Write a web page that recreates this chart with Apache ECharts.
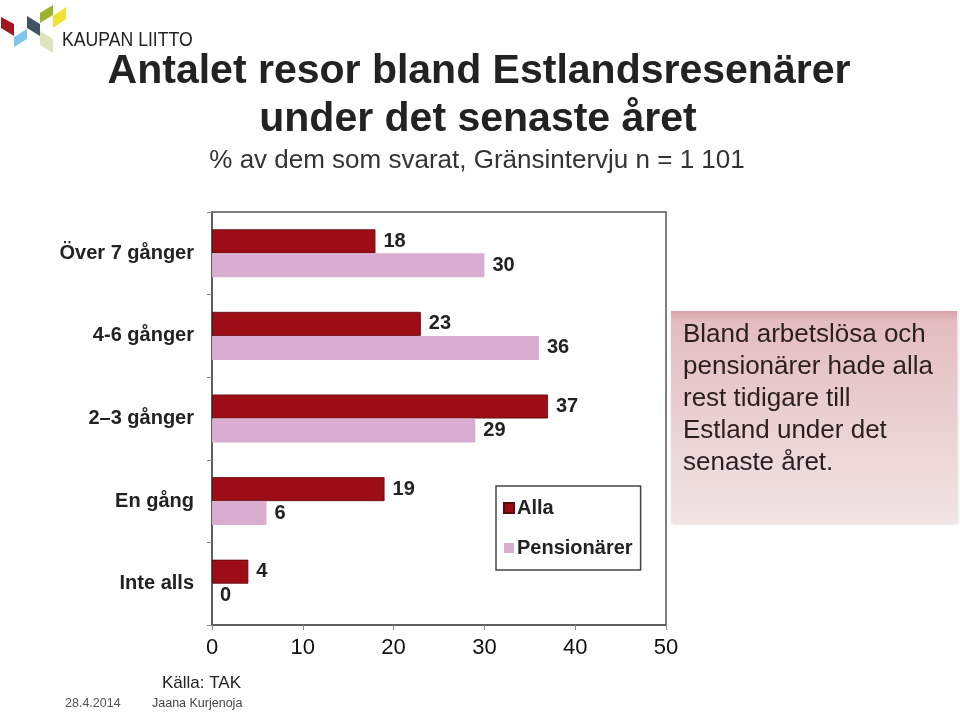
<!DOCTYPE html>
<html>
<head>
<meta charset="utf-8">
<script src="https://cdn.jsdelivr.net/npm/echarts@6/dist/echarts.min.js"></script>
<style>html,body{margin:0;padding:0;background:#fff}#c{width:960px;height:712px}</style>
</head>
<body>
<div id="c"></div>
<script>
const categories = ['Över 7 gånger', '4-6 gånger', '2\u20133 gånger', 'En gång', 'Inte alls'];
const seriesNames = ['Alla', 'Pensionärer'];
const allaValues = [18, 23, 37, 19, 4];
const pensionararValues = [30, 36, 29, 6, 0];
const xTicks = [0, 10, 20, 30, 40, 50];

const FONT = '"Liberation Sans", Arial, Helvetica, sans-serif';
const chart = echarts.init(document.getElementById('c'), null, {renderer: 'canvas'});

const labelStyle = {show: true, position: 'right', distance: 8, fontFamily: FONT, fontSize: 20, fontWeight: 'bold', color: '#222'};

function para(pts, color) {
  return {type: 'polygon', shape: {points: pts}, style: {fill: color}};
}

chart.setOption({
  backgroundColor: '#fff',
  animation: false,
  grid: {left: 212, right: 294, top: 212, bottom: 87, show: true, borderColor: '#555', borderWidth: 1.5, backgroundColor: 'transparent'},
  legend: {
    data: seriesNames,
    orient: 'vertical',
    left: 496, top: 486,
    padding: [12, 8, 12, 7],
    itemGap: 20,
    itemWidth: 10, itemHeight: 10,
    icon: 'rect',
    borderColor: '#444', borderWidth: 1.5,
    backgroundColor: '#fff',
    textStyle: {fontFamily: FONT, fontSize: 20, fontWeight: 'bold', color: '#222', padding: [0, 0, 0, -2]}
  },
  xAxis: {
    type: 'value', min: xTicks[0], max: xTicks[xTicks.length - 1], interval: 10,
    splitLine: {show: false},
    axisLine: {show: true, lineStyle: {color: '#555', width: 1.5}},
    axisTick: {show: true, length: 5, lineStyle: {color: '#888'}},
    axisLabel: {fontFamily: FONT, fontSize: 22, color: '#111', margin: 12}
  },
  yAxis: {
    type: 'category', data: categories, inverse: true,
    axisLine: {show: true, lineStyle: {color: '#555', width: 1.5}},
    axisTick: {show: true, length: 5, lineStyle: {color: '#888'}},
    axisLabel: {fontFamily: FONT, fontSize: 20, fontWeight: 'bold', color: '#222', margin: 18}
  },
  series: [
    {name: seriesNames[0], type: 'bar', data: allaValues, barWidth: 24, barGap: '0%',
     itemStyle: {color: '#9c0d16', borderColor: '#5c0a0e', borderWidth: 0.8}, label: labelStyle},
    {name: seriesNames[1], type: 'bar', data: pensionararValues, barWidth: 24, barGap: '0%',
     itemStyle: {color: '#d9adcf'}, label: labelStyle}
  ],
  graphic: [
    // logo
    para([[1,17],[14,24],[14,36],[1,28]], '#a1191d'),
    para([[14,37],[27,29],[27,39],[14,47]], '#7fc6ea'),
    para([[27,16],[40,24],[40,36],[27,28]], '#3f5364'),
    para([[40,13],[53,5],[53,15],[40,23]], '#9cb42c'),
    para([[53,16],[66,7],[66,19],[53,28]], '#f0e234'),
    para([[40,31],[53,39],[53,53],[40,45]], '#dfe4bf'),
    {type: 'text', x: 62, y: 40, scaleX: 0.84, originX: 0, originY: 0, style: {text: 'KAUPAN LIITTO', font: '21px ' + FONT, fill: '#222', verticalAlign: 'middle'}},
    // titles
    {type: 'text', x: 479, y: 72, style: {text: 'Antalet resor bland Estlandsresenärer', font: 'bold 41px ' + FONT, fill: '#222', align: 'center', verticalAlign: 'middle'}},
    {type: 'text', x: 478, y: 120, style: {text: 'under det senaste året', font: 'bold 41px ' + FONT, fill: '#222', align: 'center', verticalAlign: 'middle'}},
    {type: 'text', x: 477, y: 161, style: {text: '% av dem som svarat, Gränsintervju n = 1 101', font: '26px ' + FONT, fill: '#333', align: 'center', verticalAlign: 'middle'}},
    // note box
    {type: 'rect', shape: {x: 671, y: 311, width: 286, height: 212},
     style: {fill: {type: 'linear', x: 0, y: 0, x2: 0, y2: 1, colorStops: [{offset: 0, color: '#d9a3a9'}, {offset: 0.05, color: '#e2bcc0'}, {offset: 1, color: '#f2e5e5'}]},
             shadowBlur: 3, shadowColor: 'rgba(0,0,0,0.15)', shadowOffsetX: 1, shadowOffsetY: 1}},
    {type: 'text', x: 683, y: 319, style: {text: 'Bland arbetslösa och\npensionärer hade alla\nrest tidigare till\nEstland under det\nsenaste året.', font: '26px ' + FONT, lineHeight: 32, fill: '#2b1e1e'}},
    // footer
    {type: 'text', x: 162, y: 683, style: {text: 'Källa: TAK', font: '17px ' + FONT, fill: '#222', verticalAlign: 'middle'}},
    {type: 'text', x: 65, y: 704, style: {text: '28.4.2014', font: '12.5px ' + FONT, fill: '#555', verticalAlign: 'middle'}},
    {type: 'text', x: 152, y: 704, style: {text: 'Jaana Kurjenoja', font: '12.5px ' + FONT, fill: '#444', verticalAlign: 'middle'}}
  ]
});
</script>
</body>
</html>
